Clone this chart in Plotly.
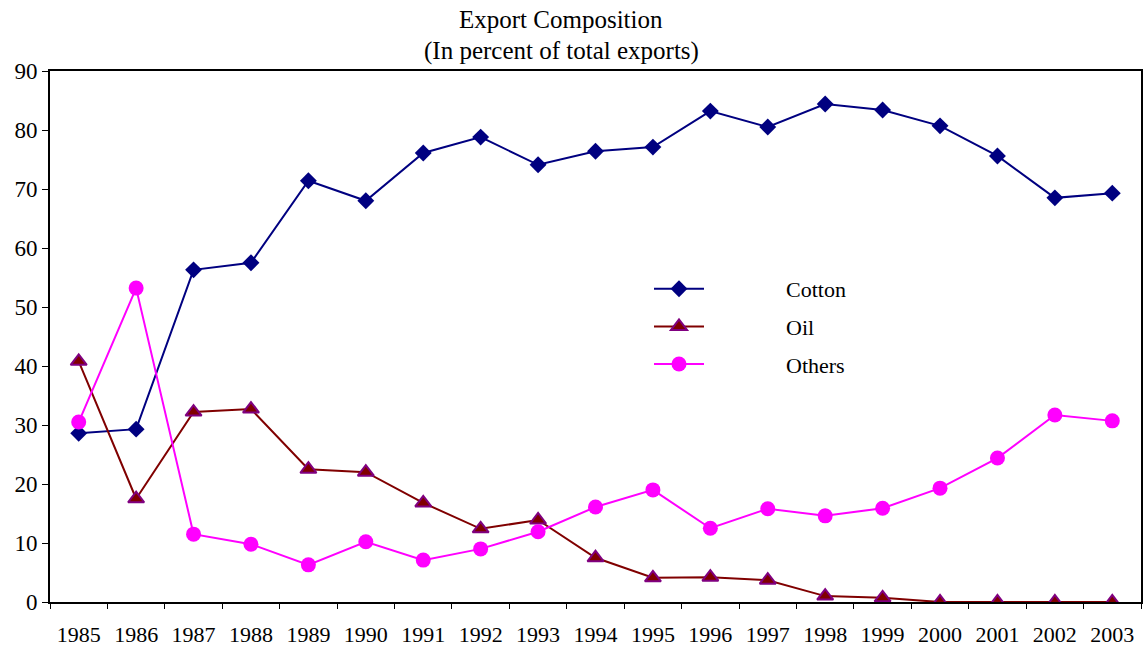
import plotly.graph_objects as go

years = [str(y) for y in range(1985, 2004)]
cotton = [28.6, 29.3, 56.3, 57.5, 71.4, 68.0, 76.1, 78.8, 74.1, 76.4, 77.1, 83.2, 80.5, 84.4, 83.4, 80.7, 75.6, 68.5, 69.3]
oil = [40.8, 17.5, 32.2, 32.7, 22.5, 22.0, 16.8, 12.4, 13.9, 7.5, 4.1, 4.2, 3.7, 1.0, 0.7, 0.0, 0.0, 0.0, 0.0]
others = [30.5, 53.2, 11.5, 9.8, 6.3, 10.2, 7.1, 9.0, 11.9, 16.1, 19.0, 12.5, 15.8, 14.6, 15.9, 19.3, 24.4, 31.7, 30.7]
y_ticks = [0, 10, 20, 30, 40, 50, 60, 70, 80, 90]
title_lines = ["Export Composition", "(In percent of total exports)"]

FONT = "Liberation Serif, Times New Roman, serif"
PAD = "\u00a0" * 14

W, H = 1144, 652
L, R, T, B = 50, 3, 71, 50
PH = H - T - B
PW = W - L - R

fig = go.Figure()
fig.add_trace(go.Scatter(x=years, y=cotton, name=PAD + "Cotton", mode="lines+markers",
                         legendgroup="a",
                         line=dict(color="#000080", width=2),
                         marker=dict(symbol="diamond", size=13, color="#000080")))
fig.add_trace(go.Scatter(x=years, y=oil, name=PAD + "Oil", mode="lines+markers",
                         legendgroup="b",
                         line=dict(color="#800000", width=2),
                         marker=dict(symbol="triangle-up", size=14, color="#800000",
                                     line=dict(color="#800080", width=2))))
fig.add_trace(go.Scatter(x=years, y=others, name=PAD + "Others", mode="lines+markers",
                         legendgroup="c",
                         line=dict(color="#FF00FF", width=2),
                         marker=dict(symbol="circle", size=15, color="#FF00FF")))

for i, (txt, yc) in enumerate(zip(title_lines, [19, 51])):
    fig.add_annotation(text=txt, xref="paper", yref="paper",
                       x=(561 - L) / PW, y=1 + (T - yc) / PH,
                       xanchor="center", yanchor="middle", showarrow=False,
                       font=dict(family=FONT, size=25, color="black"))

fig.update_layout(
    width=W, height=H,
    margin=dict(l=L, r=R, t=T, b=B, autoexpand=False),
    paper_bgcolor="white", plot_bgcolor="white",
    font=dict(family=FONT, size=22, color="black"),
    showlegend=True,
    legend=dict(x=(649 - L) / PW, y=(602 - 268) / PH, xanchor="left", yanchor="top",
                bgcolor="rgba(0,0,0,0)", itemwidth=50, tracegroupgap=6,
                font=dict(family=FONT, size=22, color="black")),
    xaxis=dict(type="category", range=[-0.5, 18.5], showgrid=False, showline=True,
               linecolor="black", automargin=False,
               linewidth=2, mirror=True, ticks="outside", ticklen=5, tickwidth=1,
               tickcolor="black", tickson="boundaries", ticklabelstandoff=12,
               tickfont=dict(family=FONT, size=22, color="black")),
    yaxis=dict(range=[0, 90], tickvals=y_ticks, showgrid=False, showline=True,
               linecolor="black", linewidth=2, mirror=True, ticks="outside",
               ticklen=6, tickwidth=1, tickcolor="black", zeroline=False,
               automargin=False,
               tickfont=dict(family=FONT, size=23, color="black")),
)

fig.write_html("out.html", config={"displayModeBar": False},
               post_script="document.body.style.margin='0';")
